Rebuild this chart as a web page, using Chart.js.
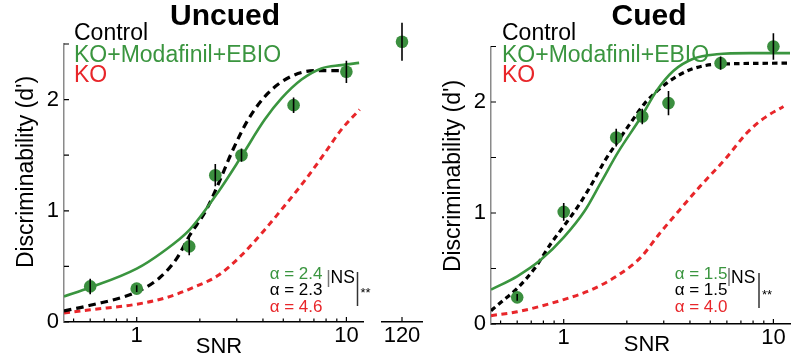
<!DOCTYPE html>
<html><head><meta charset="utf-8">
<script src="https://cdn.jsdelivr.net/npm/chart.js@4/dist/chart.umd.min.js"></script>
<style>
html,body{margin:0;padding:0;background:#fff;width:800px;height:364px;overflow:hidden;}
.c{position:absolute;top:0;height:364px;}
</style></head><body>
<div class="c" style="left:0;width:375px"><canvas id="cu"></canvas></div>
<div class="c" style="left:375px;width:55px"><canvas id="cx"></canvas></div>
<div class="c" style="left:430px;width:370px"><canvas id="cc"></canvas></div>
<script>
// ---------- data ----------
const snrPoints = [0.6, 1, 1.78, 2.37, 3.16, 5.6, 10];
const uncuedDprime = [0.32, 0.30, 0.68, 1.32, 1.50, 1.95, 2.25];
const uncuedErr = [0.07, 0.03, 0.08, 0.10, 0.06, 0.07, 0.10];
const extraSnr = [120];
const extraDprime = [2.52];
const extraErr = [0.17];
const cuedDprime = [0.24, 1.01, 1.68, 1.87, 1.99, 2.35, 2.50];
const cuedErr = [0.03, 0.08, 0.08, 0.07, 0.11, 0.06, 0.12];

// fitted curves
const uncuedKmeSnr = [0.45, 0.6, 1, 1.33, 1.79, 2.49, 3.16, 4.08, 4.9, 6.11, 7.6, 9.46, 11.5];
const uncuedKmeD   = [0.23, 0.31, 0.48, 0.63, 0.83, 1.19, 1.49, 1.82, 2.01, 2.18, 2.28, 2.31, 2.33];
const uncuedCtlSnr = [0.45, 0.6, 1, 1.29, 1.55, 1.79, 2.15, 2.54, 2.83, 3.40, 4.24, 5.47, 7.06, 10.96];
const uncuedCtlD   = [0.10, 0.15, 0.27, 0.40, 0.57, 0.78, 1.01, 1.31, 1.52, 1.82, 2.06, 2.21, 2.26, 2.26];
const uncuedKoSnr  = [0.45, 0.6, 1, 1.39, 1.86, 2.45, 3.16, 4.08, 4.9, 6.38, 7.89, 9.46, 11.56];
const uncuedKoD    = [0.08, 0.11, 0.16, 0.22, 0.31, 0.42, 0.60, 0.83, 1.01, 1.28, 1.52, 1.73, 1.91];

const cuedKmeSnr = [0.45, 0.6, 0.78, 1, 1.26, 1.51, 1.82, 2.33, 2.77, 3.33, 4.15, 5.37, 7.76, 12];
const cuedKmeD   = [0.31, 0.43, 0.58, 0.78, 1.02, 1.28, 1.55, 1.86, 2.10, 2.28, 2.39, 2.43, 2.44, 2.44];
const cuedCtlSnr = [0.45, 0.52, 0.6, 0.726, 0.873, 1, 1.17, 1.37, 1.57, 1.82, 2.10, 2.44, 3.10, 4.0, 5.37, 12];
const cuedCtlD   = [0.12, 0.22, 0.32, 0.50, 0.73, 0.88, 1.06, 1.27, 1.47, 1.65, 1.82, 1.99, 2.17, 2.29, 2.34, 2.35];
const cuedKoSnr  = [0.45, 0.6, 1, 1.36, 1.82, 2.33, 2.88, 3.58, 4.47, 5.98, 7.46, 8.95, 11.17];
const cuedKoD    = [0.075, 0.11, 0.22, 0.31, 0.44, 0.60, 0.82, 1.03, 1.24, 1.50, 1.72, 1.85, 1.96];

const xTickValues = [0.5, 0.6, 0.7, 0.8, 0.9, 1, 2, 3, 4, 5, 6, 7, 8, 9, 10];
const xTickLabels = ['', '', '', '', '', '1', '', '', '', '', '', '', '', '', '10'];
const extraTickValues = [120];
const extraTickLabels = ['120'];
const yTickValues = [0, 0.5, 1, 1.5, 2, 2.5];
const yTickLabels = ['0', '', '1', '', '2', ''];

const seriesNames = ['Control', 'KO+Modafinil+EBIO', 'KO'];
const alphaUncued = ['2.4', '2.3', '4.6'];
const alphaCued = ['1.5', '1.5', '4.0'];

// ---------- styling ----------
const F = "'Liberation Sans', Arial, sans-serif";
const GREEN = '#3a953f', GREEN_DOT = '#3b8f3f', RED = '#e8262a', BLACK = '#000';

const zip = (xs, ys) => xs.map((x, i) => ({x, y: ys[i]}));
const errData = (xs, ys, es) => {
  const out = [];
  xs.forEach((x, i) => { out.push({x, y: ys[i] - es[i]}, {x, y: ys[i] + es[i]}, {x, y: null}); });
  return out;
};

function datasets(xs, ys, es, curves) {
  const ds = [
    {data: errData(xs, ys, es), borderColor: BLACK, borderWidth: 1.6, pointRadius: 0, spanGaps: false, tension: 0, clip: false},
    {data: zip(xs, ys), showLine: false, pointRadius: 6.3, pointBackgroundColor: GREEN_DOT, pointBorderWidth: 0, clip: false},
  ];
  if (curves) {
    ds.push({data: zip(curves.kmeX, curves.kmeY), borderColor: GREEN, borderWidth: 2.6, pointRadius: 0, cubicInterpolationMode: 'monotone'});
    ds.push({data: zip(curves.ctlX, curves.ctlY), borderColor: BLACK, borderWidth: 3.2, borderDash: curves.ctlDash, pointRadius: 0, cubicInterpolationMode: 'monotone'});
    ds.push({data: zip(curves.koX, curves.koY), borderColor: RED, borderWidth: 3, borderDash: [6, 4.5], pointRadius: 0, cubicInterpolationMode: 'monotone'});
  }
  return ds;
}

function textPlugin(items, offX) {
  return {
    id: 'txt',
    afterDraw(chart) {
      const ctx = chart.ctx;
      ctx.save();
      for (const t of items) {
        if (t.line) {
          ctx.strokeStyle = t.color; ctx.lineWidth = t.w || 1.5;
          ctx.beginPath(); ctx.moveTo(t.line[0] - offX, t.line[1]); ctx.lineTo(t.line[2] - offX, t.line[3]); ctx.stroke();
          continue;
        }
        ctx.font = t.font; ctx.fillStyle = t.color;
        ctx.textAlign = t.align || 'left'; ctx.textBaseline = t.base || 'alphabetic';
        if (t.rot) {
          ctx.save(); ctx.translate(t.x - offX, t.y); ctx.rotate(-Math.PI / 2);
          ctx.fillText(t.text, 0, 0); ctx.restore();
        } else ctx.fillText(t.text, t.x - offX, t.y);
      }
      ctx.restore();
    }
  };
}

const inTicks = {
  id: 'inTicks',
  afterDraw(chart, args, o) {
    const ctx = chart.ctx, a = chart.chartArea;
    const xs = chart.scales.x, ys = chart.scales.y;
    ctx.save();
    ctx.strokeStyle = '#000'; ctx.lineWidth = 1.2;
    ctx.beginPath();
    (o.xv || []).forEach((v, i) => {
      const px = xs.getPixelForValue(v);
      const len = (o.xl && o.xl[i]) ? 5 : 3.5;
      ctx.moveTo(px, a.bottom); ctx.lineTo(px, a.bottom - len);
    });
    if (o.yv) o.yv.forEach(v => {
      const py = ys.getPixelForValue(v);
      ctx.moveTo(a.left, py); ctx.lineTo(a.left + 5, py);
    });
    ctx.stroke();
    ctx.restore();
  }
};

function panel(id, cfg) {
  const xScale = cfg.extra ? {
    type: 'linear', min: 100, max: 140,
    afterBuildTicks: s => { s.ticks = extraTickValues.map(v => ({value: v})); },
    ticks: {autoSkip: false, maxRotation: 0, padding: 1, color: '#000', font: {family: F, size: 22}, callback: (v, i) => extraTickLabels[i]},
  } : {
    type: 'logarithmic', min: 0.45, max: 12,
    afterBuildTicks: s => { s.ticks = xTickValues.map(v => ({value: v})); },
    ticks: {autoSkip: false, maxRotation: 0, padding: 1, color: '#000', font: {family: F, size: 22}, callback: (v, i) => xTickLabels[i]},
  };
  Object.assign(xScale, {
    afterFit: s => { s.height = cfg.xH; },
    grid: {display: false, drawTicks: false},
    border: {display: true, color: '#000', width: 1.5},
  });
  const yScale = {
    type: 'linear', min: 0, max: 2.5, display: !cfg.extra,
    afterBuildTicks: s => { s.ticks = yTickValues.map(v => ({value: v})); },
    afterFit: s => { s.width = cfg.yW; },
    grid: {display: false, drawTicks: false},
    border: {display: true, color: '#8a8a8a', width: 1.5},
    ticks: {autoSkip: false, padding: 5, color: '#000', font: {family: F, size: 22}, callback: (v, i) => yTickLabels[i]},
  };
  return new Chart(document.getElementById(id), {
    type: 'line',
    data: {datasets: cfg.datasets},
    options: {
      responsive: true, maintainAspectRatio: false, animation: false, events: [],
      layout: {padding: cfg.pad},
      plugins: {legend: {display: false}, tooltip: {enabled: false},
        inTicks: cfg.extra ? {xv: extraTickValues, xl: [1]} : {xv: xTickValues, xl: xTickValues.map((v, i) => xTickLabels[i] !== ''), yv: yTickValues}},
      scales: {x: xScale, y: yScale},
    },
    plugins: [inTicks, textPlugin(cfg.texts || [], cfg.offX)],
  });
}

function panelTexts(o) {
  const f = (s, b) => (b ? 'bold ' : '') + s + 'px ' + F;
  return [
    {text: o.title, x: o.titleX, y: 25, font: f(30, true), color: BLACK, align: 'center'},
    {text: seriesNames[0], x: o.legX, y: 40, font: f(23), color: BLACK},
    {text: seriesNames[1], x: o.legX, y: 62, font: f(23), color: GREEN},
    {text: seriesNames[2], x: o.legX, y: 82, font: f(23), color: RED},
    {text: "Discriminability (d')", x: o.yTitleX, y: o.yTitleY, font: f(23), color: BLACK, align: 'center', base: 'middle', rot: true},
    {text: 'SNR', x: o.snrX, y: o.snrY, font: f(22), color: BLACK, align: 'center', base: 'middle'},
    {text: 'α = ' + o.alphas[0], x: o.aX, y: 279, font: f(17), color: GREEN, align: 'right'},
    {text: 'α = ' + o.alphas[1], x: o.aX, y: 295, font: f(17), color: BLACK, align: 'right'},
    {text: 'α = ' + o.alphas[2], x: o.aX, y: 311.5, font: f(17), color: RED, align: 'right'},
    {line: [o.b1X, o.b1[0], o.b1X, o.b1[1]], color: '#777', w: 1.5},
    {text: 'NS', x: o.b1X + 2, y: 283, font: f(17.5), color: BLACK},
    {line: [o.b2X, o.b2[0], o.b2X, o.b2[1]], color: '#333', w: 1.5},
    {text: '**', x: o.b2X + 3, y: o.starY, font: f(13), color: BLACK},
  ];
}

panel('cu', {
  xH: 42, yW: 64, pad: {top: 44, right: 12, bottom: 0, left: 0}, offX: 0,
  datasets: datasets(snrPoints, uncuedDprime, uncuedErr, {
    kmeX: uncuedKmeSnr, kmeY: uncuedKmeD, ctlX: uncuedCtlSnr, ctlY: uncuedCtlD, koX: uncuedKoSnr, koY: uncuedKoD, ctlDash: [7.5, 5]}),
  texts: panelTexts({title: 'Uncued', titleX: 225, legX: 74, yTitleX: 27, yTitleY: 172, snrX: 219, snrY: 347,
    alphas: alphaUncued, aX: 322.5, b1X: 328.5, b1: [270, 287], b2X: 357.5, b2: [272, 306], starY: 297}),
});
panel('cx', {
  extra: true, xH: 42, yW: 0, pad: {top: 44, right: 8, bottom: 0, left: 7}, offX: 375,
  datasets: datasets(extraSnr, extraDprime, extraErr, null),
});
panel('cc', {
  xH: 40, yW: 61, pad: {top: 46.5, right: 10, bottom: 0, left: 0}, offX: 430,
  datasets: datasets(snrPoints, cuedDprime, cuedErr, {
    kmeX: cuedKmeSnr, kmeY: cuedKmeD, ctlX: cuedCtlSnr, ctlY: cuedCtlD, koX: cuedKoSnr, koY: cuedKoD, ctlDash: [5.5, 4]}),
  texts: panelTexts({title: 'Cued', titleX: 649, legX: 502, yTitleX: 454, yTitleY: 176, snrX: 647, snrY: 345,
    alphas: alphaCued, aX: 727.5, b1X: 729, b1: [268, 286], b2X: 759, b2: [273, 308], starY: 299}),
});
</script>
</body></html>
